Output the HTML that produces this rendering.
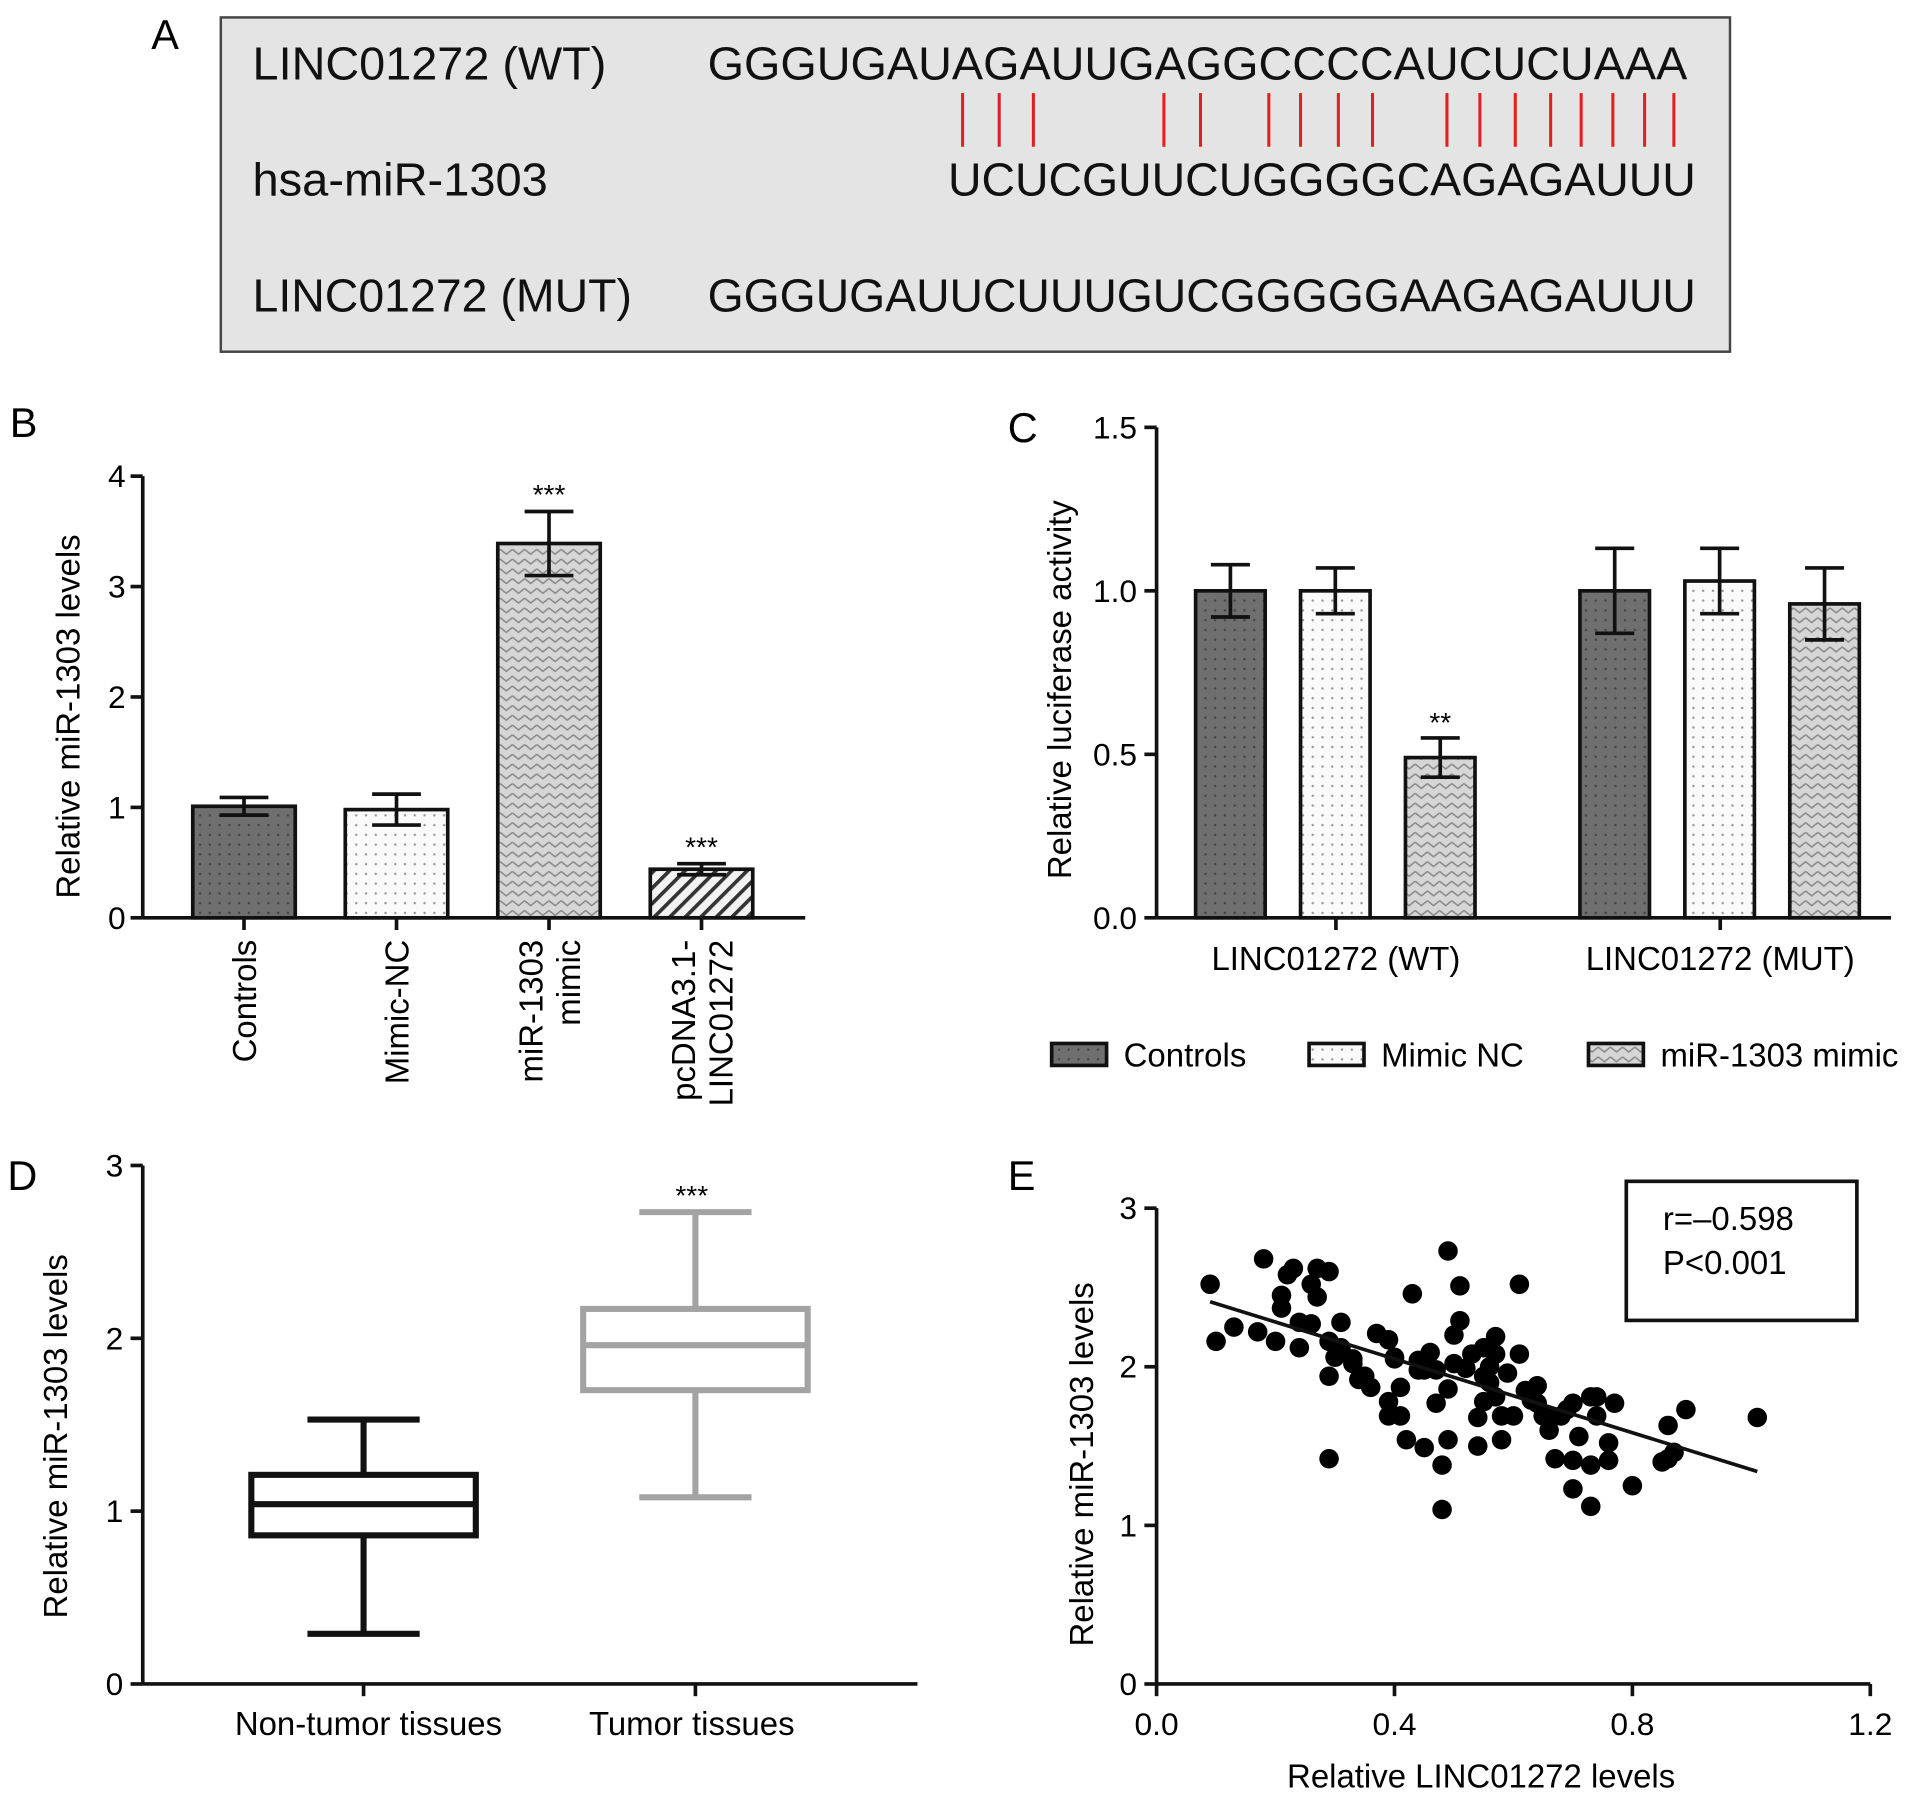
<!DOCTYPE html>
<html><head><meta charset="utf-8"><style>
html,body{margin:0;padding:0;background:#fff;}
svg{display:block;font-family:"Liberation Sans",Arial,sans-serif;}
</style></head><body>
<svg id="fig" width="1913" height="1799" viewBox="0 0 1568 1474" xmlns="http://www.w3.org/2000/svg">
<defs>
<pattern id="pDark" width="8" height="8" patternUnits="userSpaceOnUse"><rect width="8" height="8" fill="#6f6f6f"/><circle cx="4" cy="4" r="1" fill="#444"/></pattern>
<pattern id="pWhite" width="8" height="8" patternUnits="userSpaceOnUse"><rect width="8" height="8" fill="#fafafa"/><circle cx="4" cy="4" r="1" fill="#999"/></pattern>
<pattern id="pChev" width="10" height="8" patternUnits="userSpaceOnUse"><rect width="10" height="8" fill="#d6d6d6"/><path d="M0 2 L5 6 L10 2" stroke="#888" stroke-width="1.2" fill="none"/></pattern>
<pattern id="pHatch" width="9" height="9" patternUnits="userSpaceOnUse" patternTransform="rotate(45)"><rect width="9" height="9" fill="#f2f2f2"/><rect width="3" height="9" fill="#333"/></pattern>
</defs>

<g>
<text x="124" y="40" font-size="34">A</text>
<rect x="181" y="14" width="1237" height="274" fill="#e4e4e4" stroke="#444" stroke-width="2"/>
<g font-size="38" fill="#111">
<text x="207" y="65" textLength="290" lengthAdjust="spacingAndGlyphs">LINC01272 (WT)</text>
<text x="580" y="65" textLength="803" lengthAdjust="spacingAndGlyphs">GGGUGAUAGAUUGAGGCCCCAUCUCUAAA</text>
<text x="207" y="160" textLength="242" lengthAdjust="spacingAndGlyphs">hsa-miR-1303</text>
<text x="777" y="160" textLength="613" lengthAdjust="spacingAndGlyphs">UCUCGUUCUGGGGCAGAGAUUU</text>
<text x="207" y="255" textLength="311" lengthAdjust="spacingAndGlyphs">LINC01272 (MUT)</text>
<text x="580" y="255" textLength="810" lengthAdjust="spacingAndGlyphs">GGGUGAUUCUUUGUCGGGGGAAGAGAUUU</text>
</g>
<g id="pairs" stroke="#e02020" stroke-width="2.5"></g>
</g>

<g id="panelB"></g>
<g id="panelC"></g>
<g id="panelD"></g>
<g id="panelE"></g>
</svg>
<script>
// ---------- data ----------
const pairXs = [789,819,847,954,984,1040,1066,1097,1125,1186,1213,1242,1271,1296,1322,1348,1372];

const bCategories = [["Controls"],["Mimic-NC"],["miR-1303","mimic"],["pcDNA3.1-","LINC01272"]];
const bValues = [1.01, 0.98, 3.39, 0.44];
const bErrors = [0.08, 0.14, 0.29, 0.05];
const bStars = ["", "", "***", "***"];
const bTicks = [0,1,2,3,4];

const cGroups = ["LINC01272 (WT)", "LINC01272 (MUT)"];
const cSeries = ["Controls", "Mimic NC", "miR-1303 mimic"];
const cValuesWT = [1.00, 1.00, 0.49];
const cValuesMUT = [1.00, 1.03, 0.96];
const cErrorsWT = [0.08, 0.07, 0.06];
const cErrorsMUT = [0.13, 0.10, 0.11];
const cStarsWT = ["", "", "**"];
const cTicks = ["0.0","0.5","1.0","1.5"];

const dCategories = ["Non-tumor tissues", "Tumor tissues"];
const dMin = [0.29, 1.08];
const dQ1 = [0.86, 1.70];
const dMed = [1.04, 1.96];
const dQ3 = [1.21, 2.17];
const dMax = [1.53, 2.73];
const dTicks = [0,1,2,3];

const eX = [0.09,0.10,0.13,0.17,0.18,0.20,0.21,0.21,0.22,0.23,0.24,0.24,0.26,0.26,0.27,0.27,0.29,0.29,0.29,0.29,0.30,0.31,0.31,0.33,0.33,0.34,0.35,0.36,0.37,0.39,0.39,0.39,0.40,0.40,0.41,0.41,0.42,0.43,0.44,0.44,0.45,0.45,0.46,0.47,0.48,0.47,0.48,0.49,0.49,0.49,0.50,0.50,0.51,0.51,0.52,0.53,0.54,0.54,0.55,0.55,0.55,0.56,0.56,0.57,0.57,0.57,0.58,0.58,0.59,0.60,0.61,0.61,0.62,0.64,0.64,0.65,0.66,0.66,0.67,0.68,0.69,0.70,0.70,0.71,0.73,0.73,0.74,0.74,0.76,0.77,0.80,0.86,0.85,0.86,0.87,0.89,1.01,0.73,0.70,0.76,0.63];
const eY = [2.52,2.16,2.25,2.22,2.68,2.16,2.37,2.45,2.58,2.62,2.28,2.12,2.27,2.52,2.62,2.44,1.94,2.60,1.42,2.16,2.06,2.12,2.28,2.02,2.05,1.92,1.94,1.87,2.21,1.69,1.78,2.17,2.05,2.06,1.69,1.87,1.54,2.46,1.98,2.04,1.98,1.49,2.09,1.98,1.10,1.77,1.38,2.73,1.54,1.86,2.20,2.02,2.51,2.29,1.99,2.08,1.50,1.68,1.78,2.12,1.94,2.00,1.90,2.19,1.81,2.08,1.69,1.54,1.96,1.69,2.08,2.52,1.85,1.88,1.77,1.69,1.69,1.60,1.42,1.69,1.73,1.41,1.77,1.56,1.81,1.38,1.69,1.81,1.41,1.77,1.25,1.63,1.40,1.42,1.46,1.73,1.68,1.12,1.23,1.52,1.79];
const eFit = [[0.09, 2.41],[1.01, 1.34]];
const eXTicks = ["0.0","0.4","0.8","1.2"];
const eYTicks = [0,1,2,3];

const FS = 27, TFS = 26;

// ---------- helpers ----------
const NS = "http://www.w3.org/2000/svg";
function mk(parent, tag, attrs, text){
  const el = document.createElementNS(NS, tag);
  for (const k in attrs) el.setAttribute(k, attrs[k]);
  if (text !== undefined) el.textContent = text;
  parent.appendChild(el);
  return el;
}

const pairs = document.getElementById('pairs');
pairXs.forEach(x => {
  const l = mk(pairs, 'line', {x1:x, x2:x, y1:76, y2:120});
  
  
});

function errBar(g, cx, yTop, yBot, hw){
  mk(g,'line',{x1:cx,x2:cx,y1:yTop,y2:yBot,stroke:'#111','stroke-width':3});
  mk(g,'line',{x1:cx-hw,x2:cx+hw,y1:yTop,y2:yTop,stroke:'#111','stroke-width':3});
  mk(g,'line',{x1:cx-hw,x2:cx+hw,y1:yBot,y2:yBot,stroke:'#111','stroke-width':3});
}

// ---------- Panel B ----------
(function(){
  const g = document.getElementById('panelB');
  const x0 = 117, y0 = 752, yTop = 390, xEnd = 660;
  const yS = v => y0 - v * (y0 - yTop) / 4;
  const xC = i => 200 + i * 125;
  const fills = ['url(#pDark)','url(#pWhite)','url(#pChev)','url(#pHatch)'];
  let t = mk(g,'text',{x:8,y:358,'font-size':34});
  t.textContent = 'B';
  
  
  bValues.forEach((v,i) => {
    const r = mk(g,'rect',{x:xC(i)-42,y:yS(v),width:84,height:y0-yS(v),fill:fills[i],stroke:'#111','stroke-width':3});
    
    
    errBar(g, xC(i), yS(v+bErrors[i]), yS(v-bErrors[i]), 20);
    if (bStars[i]) {
      const s = mk(g,'text',{x:xC(i),y:yS(v+bErrors[i])-6,'font-size':23,'text-anchor':'middle'}, bStars[i]);
      
      
    }
    mk(g,'line',{x1:xC(i),x2:xC(i),y1:y0,y2:y0+10,stroke:'#111','stroke-width':3});
    const lines = bCategories[i];
    lines.forEach((ln, j) => {
      const off = (j - (lines.length-1)/2) * 31;
      const lt = mk(g,'text',{x:0,y:0,'font-size':FS,'text-anchor':'end',transform:`translate(${xC(i)+off+10},770) rotate(-90)`}, ln);
      
      
    });
  });
  mk(g,'line',{x1:x0,x2:x0,y1:yTop,y2:y0,stroke:'#111','stroke-width':3});
  mk(g,'line',{x1:x0,x2:xEnd,y1:y0,y2:y0,stroke:'#111','stroke-width':3});
  bTicks.forEach(v => {
    mk(g,'line',{x1:x0-10,x2:x0,y1:yS(v),y2:yS(v),stroke:'#111','stroke-width':3});
    const tl = mk(g,'text',{x:x0-14,y:yS(v)+9,'font-size':TFS,'text-anchor':'end'}, String(v));
    
    
  });
  const yt = mk(g,'text',{x:0,y:0,'font-size':FS,'text-anchor':'middle',transform:'translate(65,587) rotate(-90)'}, 'Relative miR-1303 levels');
  
  
})();

// ---------- Panel C ----------
(function(){
  const g = document.getElementById('panelC');
  const x0 = 948, y0 = 752, yTop = 350, xEnd = 1550;
  const yS = v => y0 - v * (y0 - yTop) / 1.5;
  const groupStart = [980, 1295];
  const fills = ['url(#pDark)','url(#pWhite)','url(#pChev)'];
  let t = mk(g,'text',{x:826,y:362,'font-size':34},'C');
  
  
  const vals = [cValuesWT, cValuesMUT], errs = [cErrorsWT, cErrorsMUT];
  cGroups.forEach((gn, gi) => {
    vals[gi].forEach((v, si) => {
      const x = groupStart[gi] + si * 86;
      const r = mk(g,'rect',{x:x,y:yS(v),width:57,height:y0-yS(v),fill:fills[si],stroke:'#111','stroke-width':3});
      
      
      errBar(g, x+28.5, yS(v+errs[gi][si]), yS(v-errs[gi][si]), 16);
      if (gi === 0 && cStarsWT[si]) {
        const s = mk(g,'text',{x:x+28.5,y:yS(v+errs[gi][si])-5,'font-size':23,'text-anchor':'middle'}, cStarsWT[si]);
        
        
      }
    });
    const cx = groupStart[gi] + 115;
    mk(g,'line',{x1:cx,x2:cx,y1:y0,y2:y0+10,stroke:'#111','stroke-width':3});
    const gl = mk(g,'text',{x:cx,y:795,'font-size':FS,'text-anchor':'middle'}, gn);
    
    
  });
  mk(g,'line',{x1:x0,x2:x0,y1:yTop,y2:y0,stroke:'#111','stroke-width':3});
  mk(g,'line',{x1:x0,x2:xEnd,y1:y0,y2:y0,stroke:'#111','stroke-width':3});
  cTicks.forEach(lbl => {
    const v = parseFloat(lbl);
    mk(g,'line',{x1:x0-10,x2:x0,y1:yS(v),y2:yS(v),stroke:'#111','stroke-width':3});
    const tl = mk(g,'text',{x:x0-16,y:yS(v)+9,'font-size':TFS,'text-anchor':'end'}, lbl);
    
    
  });
  const yt = mk(g,'text',{x:0,y:0,'font-size':FS,'text-anchor':'middle',transform:'translate(878,565) rotate(-90)'}, 'Relative luciferase activity');
  
  
  const legX = [862, 1073, 1302];
  cSeries.forEach((s, i) => {
    const sw = mk(g,'rect',{x:legX[i],y:855,width:45,height:18,fill:fills[i],stroke:'#111','stroke-width':3});
    
    
    const lt = mk(g,'text',{x:legX[i]+59,y:874,'font-size':FS}, s);
    
    
  });
})();

// ---------- Panel D ----------
(function(){
  const g = document.getElementById('panelD');
  const x0 = 117, y0 = 1380, yTop = 955, xEnd = 752;
  const yS = v => y0 - v * (y0 - yTop) / 3;
  const centers = [298, 570];
  const colors = ['#111', '#a3a3a3'];
  let t = mk(g,'text',{x:6,y:975,'font-size':34},'D');
  
  
  dCategories.forEach((c, i) => {
    const cx = centers[i], col = colors[i], hw = 92;
    const bg = mk(g,'g',{});
    
    
    mk(bg,'line',{x1:cx,x2:cx,y1:yS(dMax[i]),y2:yS(dQ3[i]),stroke:col,'stroke-width':5});
    mk(bg,'line',{x1:cx,x2:cx,y1:yS(dQ1[i]),y2:yS(dMin[i]),stroke:col,'stroke-width':5});
    mk(bg,'line',{x1:cx-46,x2:cx+46,y1:yS(dMax[i]),y2:yS(dMax[i]),stroke:col,'stroke-width':5});
    mk(bg,'line',{x1:cx-46,x2:cx+46,y1:yS(dMin[i]),y2:yS(dMin[i]),stroke:col,'stroke-width':5});
    mk(bg,'rect',{x:cx-hw,y:yS(dQ3[i]),width:hw*2,height:yS(dQ1[i])-yS(dQ3[i]),fill:'none',stroke:col,'stroke-width':5});
    mk(bg,'line',{x1:cx-hw,x2:cx+hw,y1:yS(dMed[i]),y2:yS(dMed[i]),stroke:col,'stroke-width':5});
    mk(g,'line',{x1:cx,x2:cx,y1:y0,y2:y0+10,stroke:'#111','stroke-width':3});
    const lb = mk(g,'text',{x:cx+(i?-3:4),y:1422,'font-size':FS,'text-anchor':'middle'}, c);
    
    
  });
  const s = mk(g,'text',{x:567,y:yS(dMax[1])-6,'font-size':23,'text-anchor':'middle'},'***');
  
  
  mk(g,'line',{x1:x0,x2:x0,y1:yTop,y2:y0,stroke:'#111','stroke-width':3});
  mk(g,'line',{x1:x0,x2:xEnd,y1:y0,y2:y0,stroke:'#111','stroke-width':3});
  dTicks.forEach(v => {
    mk(g,'line',{x1:x0-10,x2:x0,y1:yS(v),y2:yS(v),stroke:'#111','stroke-width':3});
    const tl = mk(g,'text',{x:x0-16,y:yS(v)+9,'font-size':TFS,'text-anchor':'end'}, String(v));
    
    
  });
  const yt = mk(g,'text',{x:0,y:0,'font-size':FS,'text-anchor':'middle',transform:'translate(55,1177) rotate(-90)'}, 'Relative miR-1303 levels');
  
  
})();

// ---------- Panel E ----------
(function(){
  const g = document.getElementById('panelE');
  const x0 = 948, y0 = 1380, yTop = 990, xEnd = 1533;
  const xS = v => x0 + v * (xEnd - x0) / 1.2;
  const yS = v => y0 - v * (y0 - yTop) / 3;
  let t = mk(g,'text',{x:826,y:975,'font-size':34},'E');
  
  
  eX.forEach((x, i) => {
    const c = mk(g,'circle',{cx:xS(x),cy:yS(eY[i]),r:8,fill:'#000'});
    
    
  });
  const fl = mk(g,'line',{x1:xS(eFit[0][0]),y1:yS(eFit[0][1]),x2:xS(eFit[1][0]),y2:yS(eFit[1][1]),stroke:'#111','stroke-width':3});
  
  
  mk(g,'line',{x1:x0,x2:x0,y1:yTop,y2:y0,stroke:'#111','stroke-width':3});
  mk(g,'line',{x1:x0,x2:xEnd,y1:y0,y2:y0,stroke:'#111','stroke-width':3});
  eYTicks.forEach(v => {
    mk(g,'line',{x1:x0-10,x2:x0,y1:yS(v),y2:yS(v),stroke:'#111','stroke-width':3});
    const tl = mk(g,'text',{x:x0-16,y:yS(v)+9,'font-size':TFS,'text-anchor':'end'}, String(v));
    
    
  });
  eXTicks.forEach(lbl => {
    const v = parseFloat(lbl);
    mk(g,'line',{x1:xS(v),x2:xS(v),y1:y0,y2:y0+10,stroke:'#111','stroke-width':3});
    const tl = mk(g,'text',{x:xS(v),y:1422,'font-size':TFS,'text-anchor':'middle'}, lbl);
    
    
  });
  const xt = mk(g,'text',{x:1214,y:1465,'font-size':FS,'text-anchor':'middle'},'Relative LINC01272 levels');
  
  
  const yt = mk(g,'text',{x:0,y:0,'font-size':FS,'text-anchor':'middle',transform:'translate(896,1200) rotate(-90)'}, 'Relative miR-1303 levels');
  
  
  const box = mk(g,'rect',{x:1333,y:968,width:189,height:114,fill:'#fff',stroke:'#111','stroke-width':3});
  
  
  const r = mk(g,'text',{x:1363,y:1008,'font-size':FS},'r=–0.598');
  
  
  const p = mk(g,'text',{x:1363,y:1044,'font-size':FS},'P<0.001');
  
  
})();
</script>
</body></html>
